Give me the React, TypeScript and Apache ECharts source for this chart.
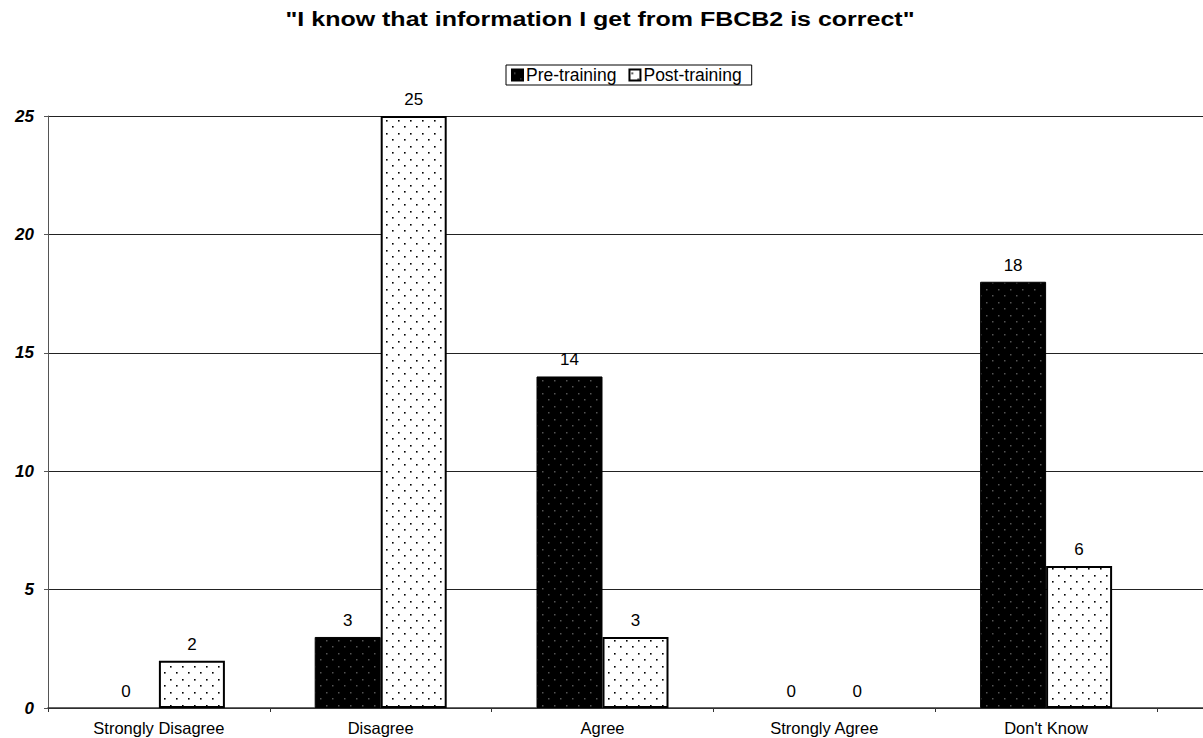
import React, { useEffect, useRef } from "react";
import * as echarts from "echarts";

const categories = ["Strongly Disagree", "Disagree", "Agree", "Strongly Agree", "Don't Know"];
const preTraining = [0, 3, 14, 0, 18];
const postTraining = [2, 25, 3, 0, 6];
const seriesNames = ["Pre-training", "Post-training"];
const titleText = '"I know that information I get from FBCB2 is correct"';

function makePattern(bg: string, dot: string, size: number) {
  const c = document.createElement("canvas");
  c.width = 12;
  c.height = 13;
  const ctx = c.getContext("2d")!;
  ctx.fillStyle = bg;
  ctx.fillRect(0, 0, 12, 13);
  ctx.fillStyle = dot;
  ctx.fillRect(2, 3, size, size);
  ctx.fillRect(8, 9, size, size);
  return c;
}

export default function App() {
  const ref = useRef<HTMLDivElement>(null);
  useEffect(() => {
    if (!ref.current) return;
    const chart = echarts.init(ref.current, undefined, { renderer: "svg" });
    const prePat = makePattern("#000000", "#555555", 1.5);
    const postPat = makePattern("#ffffff", "#000000", 1.6);
    const font = "'Liberation Sans', Arial, sans-serif";
    const toItems = (arr: number[], bw: number) =>
      arr.map((v) => ({ value: v, itemStyle: { borderWidth: v === 0 ? 0 : bw } }));
    chart.setOption({
      animation: false,
      backgroundColor: "#ffffff",
      textStyle: { fontFamily: font },
      graphic: [
        {
          type: "text",
          x: 600,
          y: 19,
          scaleX: 1.25,
          style: {
            text: titleText,
            fontSize: 20,
            fontWeight: "bold",
            fontFamily: font,
            fill: "#000",
            align: "center",
            verticalAlign: "middle",
          },
        },
      ],
      legend: {
        data: seriesNames,
        top: 65,
        left: 506,
        itemGap: 12,
        itemWidth: 11,
        itemHeight: 11,
        padding: [1, 10, 1, 5],
        borderColor: "#000",
        borderWidth: 1,
        textStyle: { fontSize: 17.5, color: "#000", padding: [0, 0, 0, -2], fontFamily: font },
        icon: "rect",
      },
      grid: [
        { left: 48, right: 0, top: 116, bottom: 30 },
        { left: 48, right: 46, top: 116, bottom: 30 },
      ],
      xAxis: [
        {
          type: "category",
          gridIndex: 0,
          data: [""],
          axisLine: { show: true, lineStyle: { color: "#333", width: 1.5 } },
          axisTick: { show: false },
          axisLabel: { show: false },
        },
        {
          type: "category",
          gridIndex: 1,
          data: categories,
          axisLine: { show: false },
          axisTick: { show: true, length: 4, lineStyle: { color: "#333" } },
          axisLabel: { fontSize: 16.5, color: "#000", margin: 11, fontFamily: font },
        },
      ],
      yAxis: [
        {
          type: "value",
          gridIndex: 0,
          min: 0,
          max: 25,
          interval: 5,
          axisLine: { show: true, lineStyle: { color: "#555", width: 1 } },
          axisTick: { show: true, length: 4, lineStyle: { color: "#555" } },
          axisLabel: {
            fontSize: 17,
            fontWeight: "bold",
            fontStyle: "italic",
            color: "#000",
            margin: 14,
            fontFamily: font,
          },
          splitLine: { show: true, lineStyle: { color: "#222", width: 1 } },
        },
        {
          type: "value",
          gridIndex: 1,
          min: 0,
          max: 25,
          interval: 5,
          show: false,
          splitLine: { show: false },
        },
      ],
      series: [
        {
          name: seriesNames[0],
          type: "bar",
          xAxisIndex: 1,
          yAxisIndex: 1,
          data: toItems(preTraining, 1),
          barWidth: 66,
          barGap: "0%",
          itemStyle: { color: { image: prePat, repeat: "repeat" }, borderColor: "#000", borderWidth: 1 },
          label: { show: true, position: "top", distance: 8, fontSize: 17, color: "#000", fontFamily: font },
        },
        {
          name: seriesNames[1],
          type: "bar",
          xAxisIndex: 1,
          yAxisIndex: 1,
          data: toItems(postTraining, 2),
          barWidth: 66,
          barGap: "0%",
          itemStyle: { color: { image: postPat, repeat: "repeat" }, borderColor: "#000", borderWidth: 2 },
          label: { show: true, position: "top", distance: 8, fontSize: 17, color: "#000", fontFamily: font },
        },
      ],
    });
    return () => chart.dispose();
  }, []);
  return (
    <div
      ref={ref}
      style={{ position: "absolute", left: 0, top: 0, width: 1203, height: 738 }}
    />
  );
}
